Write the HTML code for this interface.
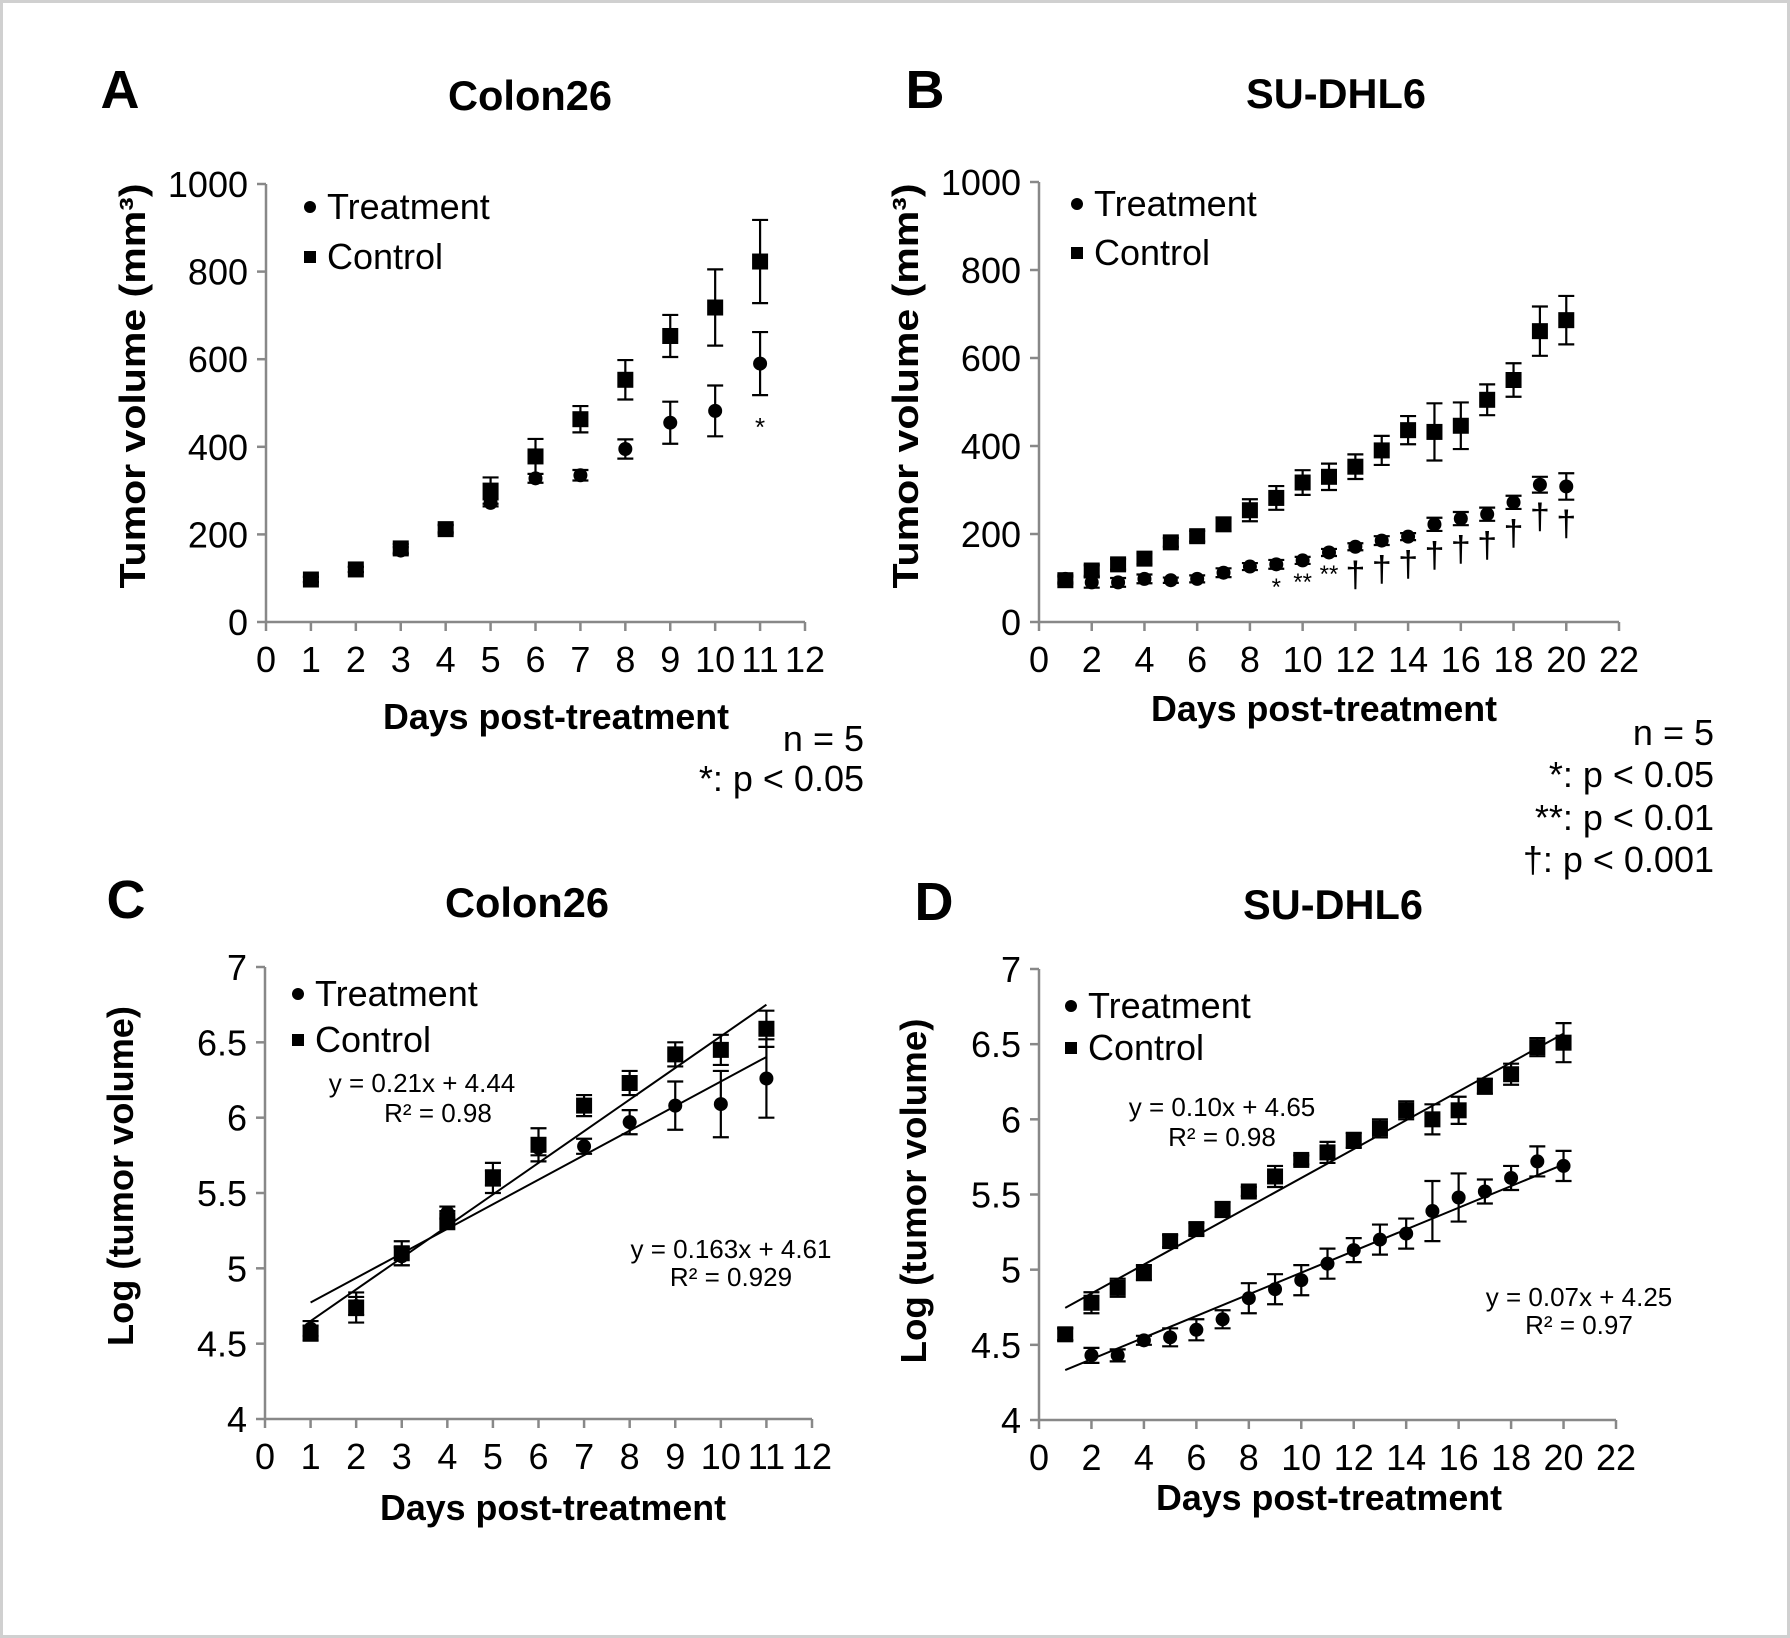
<!DOCTYPE html>
<html><head><meta charset="utf-8"><style>
html,body{margin:0;padding:0;background:#fff}
svg{display:block;font-family:"Liberation Sans",Arial,sans-serif}
</style></head><body>
<svg id="fig" width="1790" height="1638" viewBox="0 0 1790 1638" xmlns="http://www.w3.org/2000/svg">
<rect x="1.5" y="1.5" width="1787" height="1635" fill="#fff" stroke="#d0d0d0" stroke-width="3"/>
</svg>
<script>
// ---- Panel A data (Colon26, mm3) ----
const daysA = [1,2,3,4,5,6,7,8,9,10,11];
const treatA = [97,120,163,213,272,328,335,395,455,482,590];
const treatAErr = [6,6,8,8,8,10,12,22,48,58,72];
const ctrlA = [97,120,168,212,300,378,463,553,653,718,823];
const ctrlAErr = [6,6,10,10,30,40,30,45,48,87,95];
const ticksAX = [0,1,2,3,4,5,6,7,8,9,10,11,12];
const ticksAY = [0,200,400,600,800,1000];
// ---- Panel B data (SU-DHL6, mm3) ----
const daysB = [1,2,3,4,5,6,7,8,9,10,11,12,13,14,15,16,17,18,19,20];
const treatB = [98,90,90,98,95,98,112,126,131,140,158,171,185,194,222,235,245,272,312,308];
const treatBErr = [8,12,10,10,6,8,10,8,10,8,8,8,10,8,15,15,15,15,18,30];
const ctrlB = [95,117,131,144,181,195,222,254,282,317,330,353,390,436,432,446,505,550,661,686];
const ctrlBErr = [8,12,12,12,10,12,15,25,27,28,30,28,33,32,65,53,35,38,56,55];
const sigB = ["","","","","","","","","*","**","**","†","†","†","†","†","†","†","†","†"];
const ticksBX = [0,2,4,6,8,10,12,14,16,18,20,22];
const ticksBY = [0,200,400,600,800,1000];
// ---- Panel C data (log) ----
const daysC = [1,2,3,4,5,6,7,8,9,10,11];
const treatC = [4.6,4.75,5.08,5.37,5.6,5.8,5.81,5.97,6.08,6.09,6.26];
const treatCErr = [0.05,0.06,0.06,0.04,0.05,0.05,0.05,0.08,0.16,0.22,0.26];
const ctrlC = [4.57,4.74,5.1,5.32,5.6,5.82,6.08,6.23,6.42,6.45,6.59];
const ctrlCErr = [0.05,0.1,0.08,0.06,0.1,0.11,0.07,0.08,0.08,0.1,0.12];
const fitC = [[0.163,4.61],[0.21,4.44]];
const ticksCX = [0,1,2,3,4,5,6,7,8,9,10,11,12];
const ticksCY = [4,4.5,5,5.5,6,6.5,7];
// ---- Panel D data (log) ----
const daysD = [1,2,3,4,5,6,7,8,9,10,11,12,13,14,15,16,17,18,19,20];
const treatD = [4.57,4.43,4.43,4.53,4.55,4.6,4.67,4.81,4.87,4.93,5.04,5.13,5.2,5.24,5.39,5.48,5.52,5.61,5.72,5.69];
const treatDErr = [0.04,0.05,0.04,0.03,0.06,0.07,0.06,0.1,0.1,0.1,0.1,0.08,0.1,0.1,0.2,0.16,0.08,0.08,0.1,0.1];
const ctrlD = [4.57,4.78,4.88,4.98,5.19,5.27,5.4,5.52,5.62,5.73,5.78,5.86,5.94,6.06,6.0,6.06,6.22,6.3,6.48,6.51];
const ctrlDErr = [0.04,0.07,0.06,0.05,0.04,0.04,0.05,0.03,0.07,0.03,0.07,0.05,0.06,0.06,0.1,0.09,0.05,0.07,0.06,0.13];
const fitD = [[0.072,4.26],[0.096,4.65]];
const ticksDX = [0,2,4,6,8,10,12,14,16,18,20,22];
const ticksDY = [4,4.5,5,5.5,6,6.5,7];

const NS="http://www.w3.org/2000/svg";
const svg=document.getElementById('fig');
function mk(tag,attrs,parent,txt){const e=document.createElementNS(NS,tag);for(const k in attrs)e.setAttribute(k,attrs[k]);if(txt!==undefined)e.textContent=txt;(parent||svg).appendChild(e);return e;}

function panel(cfg){
  const g=mk('g',{});
  
  
  const sx=v=>cfg.x0+(v-cfg.xmin)/(cfg.xmax-cfg.xmin)*(cfg.x1-cfg.x0);
  const sy=v=>cfg.y0-(v-cfg.ymin)/(cfg.ymax-cfg.ymin)*(cfg.y0-cfg.y1);
  const ax=mk('line',{x1:cfg.x0,y1:cfg.y0,x2:cfg.x1,y2:cfg.y0,stroke:'#888','stroke-width':2.5},g);
  
  const ay=mk('line',{x1:cfg.x0,y1:cfg.y0,x2:cfg.x0,y2:cfg.y1,stroke:'#888','stroke-width':2.5},g);
  
  cfg.tx.forEach(t=>{
    mk('line',{x1:sx(t),y1:cfg.y0,x2:sx(t),y2:cfg.y0+9,stroke:'#888','stroke-width':2.5},g);
    const l=mk('text',{x:sx(t),y:cfg.y0+50,'font-size':36,'text-anchor':'middle'},g,String(t));
    
  });
  cfg.ty.forEach(t=>{
    mk('line',{x1:cfg.x0-9,y1:sy(t),x2:cfg.x0,y2:sy(t),stroke:'#888','stroke-width':2.5},g);
    const l=mk('text',{x:cfg.x0-18,y:sy(t)+13,'font-size':36,'text-anchor':'end'},g,String(t));
    
  });
  (cfg.fits||[]).forEach((f,i)=>{
    const a=cfg.days[0],b=cfg.days[cfg.days.length-1];
    const fl=mk('line',{x1:sx(a),y1:sy(f[0]*a+f[1]),x2:sx(b),y2:sy(f[0]*b+f[1]),stroke:'#000','stroke-width':2},g);
    
    
  });
  function series(vals,errs,shape,nm){
    vals.forEach((v,i)=>{
      const x=sx(cfg.days[i]),y=sy(v),yt=sy(v+errs[i]),yb=sy(v-errs[i]);
      const e=mk('path',{d:`M${x},${yt}V${yb}M${x-8},${yt}H${x+8}M${x-8},${yb}H${x+8}`,stroke:'#000','stroke-width':2.2,fill:'none'},g);
      
      
      let m;
      if(shape==='c') m=mk('circle',{cx:x,cy:y,r:7,fill:'#000'},g);
      else m=mk('rect',{x:x-8,y:y-8,width:16,height:16,fill:'#000'},g);
      
      
    });
  }
  series(cfg.ctrl,cfg.ctrlErr,'s','control');
  series(cfg.treat,cfg.treatErr,'c','treatment');
  (cfg.sig||[]).forEach((s,i)=>{
    if(!s)return;
    const dag=s==='†';
    const y=sy(cfg.treat[i]-cfg.treatErr[i])+(dag?36:26);
    const t=mk('text',{x:sx(cfg.days[i]),y:y,'font-size':dag?36:24,'text-anchor':'middle'},g,s);
    
    
  });
  return {sx,sy};
}

const A=panel({name:'panel-a-chart',x0:266,x1:805,y0:622,y1:184,xmin:0,xmax:12,ymin:0,ymax:1000,tx:ticksAX,ty:ticksAY,days:daysA,treat:treatA,treatErr:treatAErr,ctrl:ctrlA,ctrlErr:ctrlAErr});
const B=panel({name:'panel-b-chart',x0:1039,x1:1619,y0:622,y1:182,xmin:0,xmax:22,ymin:0,ymax:1000,tx:ticksBX,ty:ticksBY,days:daysB,treat:treatB,treatErr:treatBErr,ctrl:ctrlB,ctrlErr:ctrlBErr,sig:sigB});
const C=panel({name:'panel-c-chart',x0:265,x1:812,y0:1419,y1:967,xmin:0,xmax:12,ymin:4,ymax:7,tx:ticksCX,ty:ticksCY,days:daysC,treat:treatC,treatErr:treatCErr,ctrl:ctrlC,ctrlErr:ctrlCErr,fits:fitC});
const D=panel({name:'panel-d-chart',x0:1039,x1:1616,y0:1420,y1:969,xmin:0,xmax:22,ymin:4,ymax:7,tx:ticksDX,ty:ticksDY,days:daysD,treat:treatD,treatErr:treatDErr,ctrl:ctrlD,ctrlErr:ctrlDErr,fits:fitD});

const sa=mk('text',{x:A.sx(11),y:436,'font-size':26,'text-anchor':'middle'},svg,'*');



function txt(s,x,y,size,opts,name){
  const a={x:x,y:y,'font-size':size};Object.assign(a,opts||{});
  const t=mk('text',a,svg,s);
  
  
  return t;
}
const mid={'text-anchor':'middle'};
const midB={'text-anchor':'middle','font-weight':'bold'};
const end={'text-anchor':'end'};
function fit(o,len){return Object.assign({textLength:len,lengthAdjust:'spacingAndGlyphs'},o);}
txt('A',120,108,54,midB,'panel-letter-a');
txt('Colon26',530,110,42,fit(midB,164),'panel-a-title');
txt('B',925,108,54,midB,'panel-letter-b');
txt('SU-DHL6',1336,108,42,fit(midB,180),'panel-b-title');
txt('C',126,918,54,midB,'panel-letter-c');
txt('Colon26',527,917,42,fit(midB,164),'panel-c-title');
txt('D',934,920,54,midB,'panel-letter-d');
txt('SU-DHL6',1333,919,42,fit(midB,180),'panel-d-title');
txt('Days post-treatment',556,729,36,fit(midB,346),'x-axis-title');
txt('Days post-treatment',1324,721,36,fit(midB,346),'x-axis-title');
txt('Days post-treatment',553,1520,36,fit(midB,346),'x-axis-title');
txt('Days post-treatment',1329,1510,36,fit(midB,346),'x-axis-title');
function ytitle(s,x,y,len,name){const t=txt(s,0,0,36,fit(midB,len),name);t.setAttribute('transform',`translate(${x},${y}) rotate(-90)`);t.setAttribute('xml:space','preserve');return t;}
ytitle('Tumor volume  (mm³)',145,386,405,'y-axis-title');
ytitle('Tumor volume  (mm³)',918,386,405,'y-axis-title');
ytitle('Log (tumor volume)',133,1176,340,'y-axis-title');
ytitle('Log  (tumor volume)',926,1191,345,'y-axis-title');
function legend(x,y1,y2){
  const c=mk('circle',{cx:x,cy:y1-12,r:6,fill:'#000'});
  
  txt('Treatment',x+17,y1,36,{},'legend-treatment');
  const r=mk('rect',{x:x-6,y:y2-18,width:12,height:12,fill:'#000'});
  
  txt('Control',x+17,y2,36,{},'legend-control');
}
legend(310,219,269);
legend(1077,216,265);
legend(298,1006,1052);
legend(1071,1018,1060);
txt('n = 5',864,751,36,end,'note-n');
txt('*: p < 0.05',864,791,36,end,'note-p05');
txt('n = 5',1714,745,36,end,'note-n');
txt('*: p < 0.05',1714,787,36,end,'note-p05');
txt('**: p < 0.01',1714,830,36,end,'note-p01');
txt('†: p < 0.001',1714,872,36,end,'note-p001');
txt('y = 0.21x + 4.44',422,1092,26,mid,'equation-control');
txt('R² = 0.98',438,1122,26,mid,'r-squared-control');
txt('y = 0.163x + 4.61',731,1258,26,mid,'equation-treatment');
txt('R² = 0.929',731,1286,26,mid,'r-squared-treatment');
txt('y = 0.10x + 4.65',1222,1116,26,mid,'equation-control');
txt('R² = 0.98',1222,1146,26,mid,'r-squared-control');
txt('y = 0.07x + 4.25',1579,1306,26,mid,'equation-treatment');
txt('R² = 0.97',1579,1334,26,mid,'r-squared-treatment');
</script>
</body></html>
